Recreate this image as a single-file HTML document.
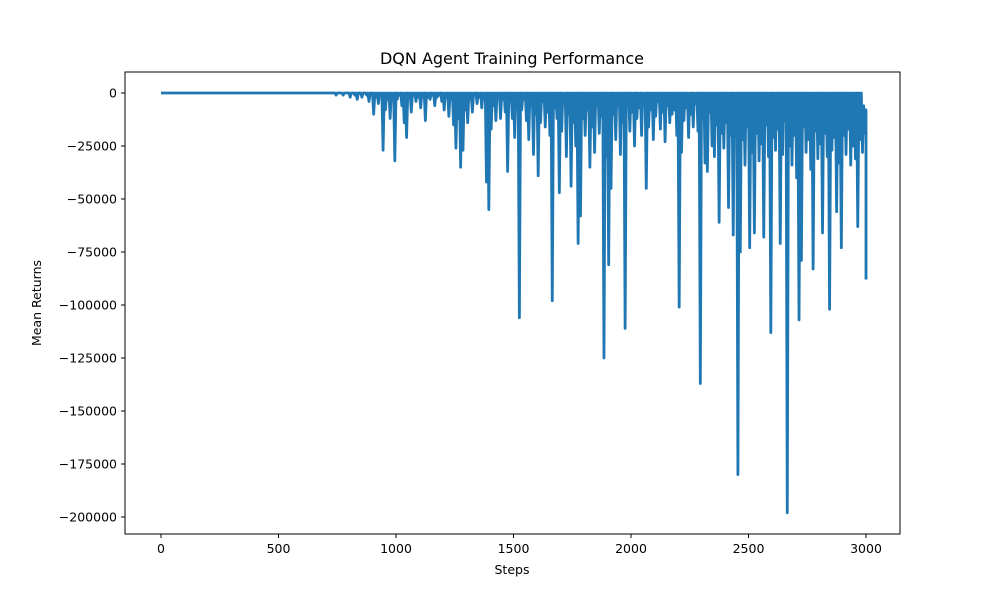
<!DOCTYPE html>
<html><head><meta charset="utf-8"><style>
body{margin:0;background:#fff}
svg text{font-family:"DejaVu Sans","Liberation Sans",sans-serif;fill:#000}
</style></head><body>
<svg id="chart" width="1000" height="600" xmlns="http://www.w3.org/2000/svg">
<rect width="1000" height="600" fill="#fff"/>
<text x="512" y="64" font-size="16" text-anchor="middle">DQN Agent Training Performance</text>
<g id="plot"></g>
<rect x="125" y="72" width="775" height="462" fill="none" stroke="#000" stroke-width="1"/>
<g id="xt"></g><g id="yt"></g>
<text x="512" y="574" font-size="12.5" text-anchor="middle">Steps</text>
<text transform="translate(41,303) rotate(-90)" font-size="12.5" text-anchor="middle">Mean Returns</text>
</svg>
<script>
// binned returns (in thousands), bin width 10 steps
const binWidth = 10;
const binMin = [
0,0,0,0,0,0,0,0,0,0, 0,0,0,0,0,0,0,0,0,0, 0,0,0,0,0,0,0,0,0,0,
0,0,0,0,0,0,0,0,0,0, 0,0,0,0,0,0,0,0,0,0, 0,0,0,0,0,0,0,0,0,0,
0,0,0,0,0,0,0,0,0,0, 0,0,0,0,-1,0,0,-1,0,0,
-2,0,-1,-3,0,-2,0,-1,-4,0, -10,-2,-5,-1,-27,-8,-3,-12,-2,-32,
-3,-1,-6,-14,-21,-2,-9,-1,-4,-2, -7,-1,-13,-2,-3,-1,-6,-2,-1,-4,
-8,-2,-11,-3,-15,-26,-12,-35,-27,-8, -14,-3,-9,-1,-5,-2,-7,-3,-42,-55,
-17,-6,-13,-2,-12,-3,-9,-37,-4,-12, -21,-5,-106,-8,-3,-13,-22,-6,-29,-10,
-39,-14,-4,-16,-9,-20,-98,-7,-12,-47, -18,-5,-30,-10,-44,-14,-25,-71,-58,-12,
-20,-8,-35,-16,-28,-6,-19,-11,-125,-30, -81,-45,-10,-22,-6,-29,-14,-111,-4,-18,
-9,-25,-12,-7,-20,-5,-45,-16,-8,-22, -11,-4,-17,-9,-23,-6,-14,-10,-8,-20,
-101,-28,-13,-7,-21,-10,-16,-5,-18,-137, -12,-33,-37,-9,-25,-30,-15,-61,-19,-26,
-14,-54,-20,-67,-8,-180,-75,-22,-34,-16, -73,-28,-66,-19,-32,-24,-68,-15,-30,-113,
-21,-27,-17,-71,-29,-13,-198,-25,-34,-20, -40,-107,-79,-16,-28,-22,-36,-83,-18,-31,
-24,-66,-19,-30,-102,-27,-21,-56,-33,-73, -20,-29,-17,-34,-25,-31,-63,-22,-28,-19,
-88];
const binMax = [
0,0,0,0,0,0,0,0,0,0, 0,0,0,0,0,0,0,0,0,0, 0,0,0,0,0,0,0,0,0,0,
0,0,0,0,0,0,0,0,0,0, 0,0,0,0,0,0,0,0,0,0, 0,0,0,0,0,0,0,0,0,0,
0,0,0,0,0,0,0,0,0,0, 0,0,0,0,0,0,0,0,0,0,
0,0,0,0,0,0,0,0,0,0, 0,0,0,0,0,0,0,0,0,0,
0,0,0,0,0,0,0,0,0,0, 0,0,0,0,0,0,0,0,0,0,
0,0,0,0,0,0,0,0,0,0, 0,0,0,0,0,0,0,0,0,0,
0,0,0,0,0,0,0,0,0,0, 0,0,0,0,0,0,0,0,0,0,
0,0,0,0,0,0,0,0,0,0, 0,0,0,0,0,0,0,0,0,0,
0,0,0,0,0,0,0,0,0,0, 0,0,0,0,0,0,0,0,0,0,
0,0,0,0,0,0,0,0,0,0, 0,0,0,0,0,0,0,0,0,0,
0,0,0,0,0,0,0,0,0,0, 0,0,0,0,0,0,0,0,0,0,
0,0,0,0,0,0,0,0,0,0, 0,0,0,0,0,0,0,0,0,0,
0,0,0,0,0,0,0,0,0,0, 0,0,0,0,0,0,0,0,0,0,
0,0,0,0,0,0,0,0,0,0, 0,0,0,0,0,0,0,0,0,-6,
-8];
const xTicks = [0,500,1000,1500,2000,2500,3000];
const yTicks = [0,-25000,-50000,-75000,-100000,-125000,-150000,-175000,-200000];

const NS = "http://www.w3.org/2000/svg";
const xs = s => 161 + s * (866 - 161) / 3000;
const ys = v => 93 + (-v) * (517 - 93) / 200000;

let pts = [];
for (let i = 0; i < binMin.length; i++) {
  const s = i * binWidth;
  pts.push(xs(s).toFixed(2) + "," + ys(binMax[i] * 1000).toFixed(2));
  pts.push(xs(s + binWidth / 2 > 3000 ? 3000 : s + binWidth / 2).toFixed(2) + "," + ys(binMin[i] * 1000).toFixed(2));
}
const line = document.createElementNS(NS, "polyline");


line.setAttribute("points", pts.join(" "));
line.setAttribute("fill", "none");
line.setAttribute("stroke", "#1f77b4");
line.setAttribute("stroke-width", "2.8");
line.setAttribute("stroke-linejoin", "round");
document.getElementById("plot").appendChild(line);

const xt = document.getElementById("xt");
xTicks.forEach(t => {
  const x = xs(t);
  const l = document.createElementNS(NS, "line");
  
  
  l.setAttribute("x1", x); l.setAttribute("x2", x);
  l.setAttribute("y1", 534); l.setAttribute("y2", 538);
  l.setAttribute("stroke", "#000");
  xt.appendChild(l);
  const tx = document.createElementNS(NS, "text");
  
  
  tx.setAttribute("x", x); tx.setAttribute("y", 553);
  tx.setAttribute("font-size", "12.5"); tx.setAttribute("text-anchor", "middle");
  tx.textContent = t;
  xt.appendChild(tx);
});
const yt = document.getElementById("yt");
yTicks.forEach(t => {
  const y = ys(t);
  const l = document.createElementNS(NS, "line");
  
  
  l.setAttribute("x1", 121); l.setAttribute("x2", 125);
  l.setAttribute("y1", y); l.setAttribute("y2", y);
  l.setAttribute("stroke", "#000");
  yt.appendChild(l);
  const tx = document.createElementNS(NS, "text");
  
  
  tx.setAttribute("x", 117); tx.setAttribute("y", y + 4.5);
  tx.setAttribute("font-size", "12.5"); tx.setAttribute("text-anchor", "end");
  tx.textContent = t === 0 ? "0" : "\u2212" + Math.abs(t);
  yt.appendChild(tx);
});
</script>
</body></html>
